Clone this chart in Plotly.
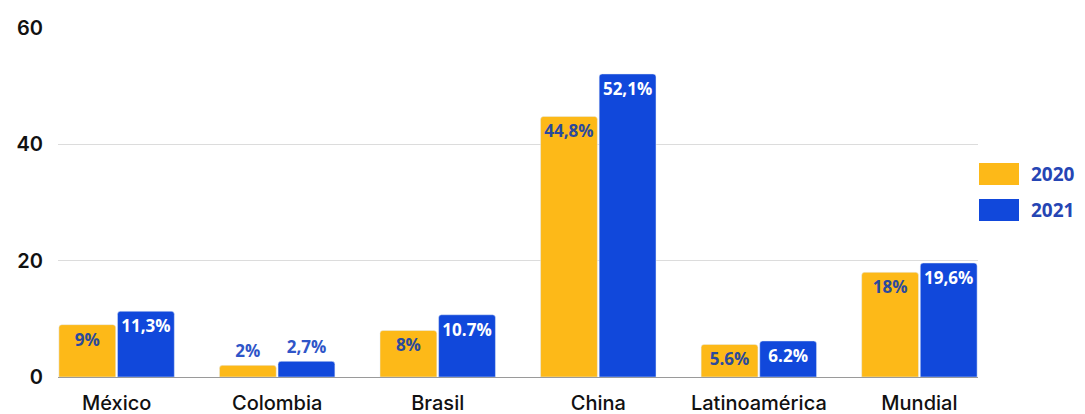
import plotly.graph_objects as go

categories = ["México", "Colombia", "Brasil", "China", "Latinoamérica", "Mundial"]
values_2020 = [9, 2, 8, 44.8, 5.6, 18]
values_2021 = [11.3, 2.7, 10.7, 52.1, 6.2, 19.6]
labels_2020 = ["9%", "2%", "8%", "44,8%", "5.6%", "18%"]
labels_2021 = ["11,3%", "2,7%", "10.7%", "52,1%", "6.2%", "19,6%"]
series_names = ["2020", "2021"]
y_ticks = [0, 20, 40, 60]

YELLOW = "#FDB918"
BLUE = "#1148DB"
DARK_LABEL = "#2B4A9C"
LEGEND_TXT = "#2545B4"
FONT = "Open Sans"
TICK_FONT = "Inter"

pos_2020 = ["outside" if v < 4 else "inside" for v in values_2020]
pos_2021 = ["outside" if v < 4 else "inside" for v in values_2021]
col_2020 = ["#2F55C8" if p == "outside" else DARK_LABEL for p in pos_2020]
col_2021 = ["#2F55C8" if p == "outside" else "white" for p in pos_2021]

fig = go.Figure()
fig.add_trace(go.Bar(
    x=categories, y=values_2020, name=series_names[0], marker_color=YELLOW,
    text=labels_2020, textposition=pos_2020, insidetextanchor="end",
    textfont=dict(family=FONT, size=17, color=col_2020, weight=700),
    constraintext="none", showlegend=False, cliponaxis=False,
))
fig.add_trace(go.Bar(
    x=categories, y=values_2021, name=series_names[1], marker_color=BLUE,
    text=labels_2021, textposition=pos_2021, insidetextanchor="end",
    textfont=dict(family=FONT, size=17, color=col_2021, weight=700),
    constraintext="none", showlegend=False, cliponaxis=False,
))

# legend drawn manually (large rounded swatches)
shapes = []
annotations = []
for i, (name, col) in enumerate(zip(series_names, [YELLOW, BLUE])):
    y0 = 163 + i * 36
    shapes.append(dict(type="rect", xref="paper", yref="paper",
                       x0=(979 - 58) / 920, x1=(1019 - 58) / 920,
                       y0=1 - (y0 + 22 - 28) / 349, y1=1 - (y0 - 28) / 349,
                       fillcolor=col, line=dict(width=0), layer="above"))
    annotations.append(dict(xref="paper", yref="paper", x=(1029 - 58) / 920,
                            y=1 - (y0 + 11 - 28) / 349, text=name, showarrow=False,
                            xanchor="left", yanchor="middle",
                            font=dict(family=FONT, size=19, color=LEGEND_TXT, weight=700)))

fig.update_layout(
    width=1085, height=414,
    margin=dict(l=58, r=107, t=28, b=37),
    paper_bgcolor="white", plot_bgcolor="white",
    barmode="group", bargap=0.27, bargroupgap=0.03,
    barcornerradius=3,
    shapes=shapes, annotations=annotations,
    font=dict(family=FONT),
)
fig.update_xaxes(
    range=[-0.365, 5.365], showgrid=False, showline=False, ticks="",
    automargin=False, ticklabelstandoff=12,
    tickfont=dict(family=TICK_FONT, size=20, color="#111111", weight=500),
)
fig.update_yaxes(
    range=[0, 60], tickvals=y_ticks, showgrid=True, gridcolor="#DCDCDC", gridwidth=1,
    zeroline=True, zerolinecolor="#9A9A9A", zerolinewidth=1, ticks="",
    automargin=False, ticklabelstandoff=14,
    tickfont=dict(family=TICK_FONT, size=20, color="#111111", weight=600),
)

fig.write_html("out.html")
